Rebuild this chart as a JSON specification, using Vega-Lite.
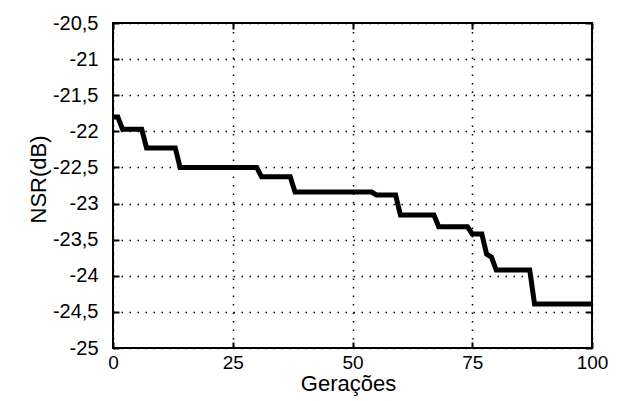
{
  "$schema": "https://vega.github.io/schema/vega-lite/v6.json",
  "autosize": {"type": "none"},
  "padding": {"left": 113, "top": 23, "right": 29, "bottom": 53},
  "width": 479,
  "height": 325,
  "background": "white",
  "config": {
    "view": {"stroke": "#000", "strokeWidth": 2},
    "font": "Liberation Sans",
    "axis": {
      "labelFont": "Liberation Sans",
      "titleFont": "Liberation Sans",
      "labelColor": "#000",
      "titleColor": "#000",
      "labelFontSize": 20,
      "titleFontSize": 22,
      "titleFontWeight": "normal",
      "tickColor": "#000",
      "tickWidth": 2,
      "tickSize": -6,
      "domain": false
    }
  },
  "data": {
    "values": [
      {"gen": 0, "nsr": -21.8},
      {"gen": 1, "nsr": -21.8},
      {"gen": 2, "nsr": -21.97},
      {"gen": 6, "nsr": -21.97},
      {"gen": 7, "nsr": -22.23},
      {"gen": 13, "nsr": -22.23},
      {"gen": 14, "nsr": -22.5},
      {"gen": 30, "nsr": -22.5},
      {"gen": 31, "nsr": -22.63},
      {"gen": 37, "nsr": -22.63},
      {"gen": 38, "nsr": -22.84},
      {"gen": 54, "nsr": -22.84},
      {"gen": 55, "nsr": -22.88},
      {"gen": 59, "nsr": -22.88},
      {"gen": 60, "nsr": -23.16},
      {"gen": 67, "nsr": -23.16},
      {"gen": 68, "nsr": -23.32},
      {"gen": 74, "nsr": -23.32},
      {"gen": 75, "nsr": -23.42},
      {"gen": 77, "nsr": -23.42},
      {"gen": 78, "nsr": -23.7},
      {"gen": 79, "nsr": -23.74},
      {"gen": 80, "nsr": -23.92},
      {"gen": 87, "nsr": -23.92},
      {"gen": 88, "nsr": -24.39},
      {"gen": 100, "nsr": -24.39}
    ]
  },
  "layer": [
    {
      "mark": {"type": "line", "color": "#000", "strokeWidth": 5, "strokeCap": "butt", "clip": true},
      "encoding": {
        "x": {
          "field": "gen", "type": "quantitative",
          "scale": {"domain": [0, 100], "nice": false, "zero": false},
          "axis": {
            "orient": "bottom",
            "title": "Gerações",
            "values": [0, 25, 50, 75, 100],
            "labelFontSize": 19,
            "labelPadding": 11,
            "labelFlush": false,
            "grid": true,
            "gridColor": "#000",
            "gridWidth": 1.5,
            "gridDash": [1.5, 7],
            "titleBaseline": "alphabetic",
            "titleAnchor": "start",
            "titleAlign": "center",
            "titleX": 235,
            "titleY": 42
          }
        },
        "y": {
          "field": "nsr", "type": "quantitative",
          "scale": {"domain": [-25, -20.5], "nice": false, "zero": false},
          "axis": {
            "orient": "left",
            "title": "NSR(dB)",
            "values": [-25, -24.5, -24, -23.5, -23, -22.5, -22, -21.5, -21, -20.5],
            "labelExpr": "replace(toString(datum.value), '.', ',')",
            "labelPadding": 21,
            "labelFlush": false,
            "labelBaseline": "middle",
            "grid": true,
            "gridColor": "#000",
            "gridWidth": 1.5,
            "gridDash": [1.5, 6.5],
            "titleBaseline": "alphabetic",
            "titleAlign": "center",
            "titleAngle": 270,
            "titleX": -68,
            "titleY": 156
          }
        }
      }
    },
    {
      "mark": {"type": "line", "opacity": 0},
      "encoding": {
        "x": {
          "field": "gen", "type": "quantitative",
          "axis": {"orient": "top", "title": null, "labels": false, "grid": false, "values": [0, 25, 50, 75, 100]}
        },
        "y": {
          "field": "nsr", "type": "quantitative",
          "axis": {"orient": "right", "title": null, "labels": false, "grid": false, "values": [-25, -24.5, -24, -23.5, -23, -22.5, -22, -21.5, -21, -20.5]}
        }
      }
    }
  ],
  "resolve": {"axis": {"x": "independent", "y": "independent"}}
}
